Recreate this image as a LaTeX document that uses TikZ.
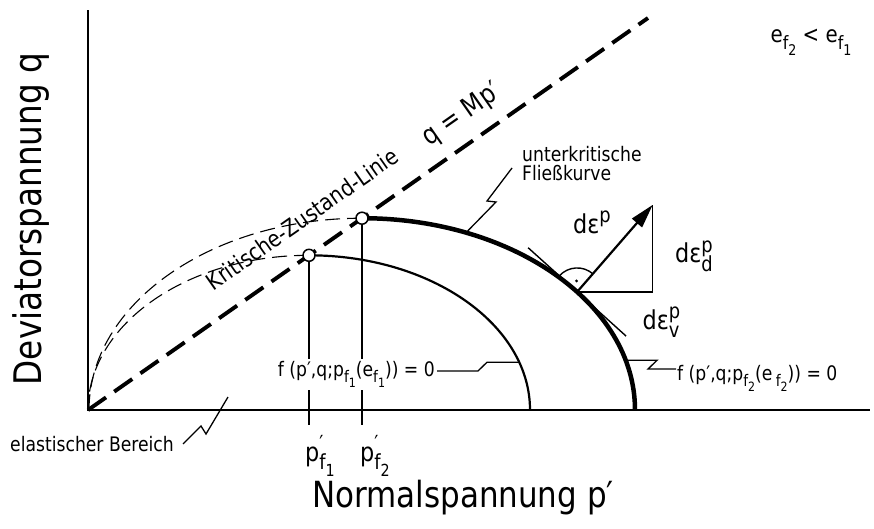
\documentclass[tikz,border=0pt]{standalone}
\usepackage{fontspec}
\setmainfont{DejaVu Sans}[FakeStretch=0.86]
\usetikzlibrary{arrows.meta}
\newcommand{\fsz}[1]{\fontsize{#1}{#1}\selectfont}
\makeatletter
\newcommand{\lo}[1]{\raisebox{-0.32em}{\fontsize{\strip@pt\dimexpr\f@size pt*4/5\relax}{1}\selectfont #1}}
\newcommand{\hi}[1]{\raisebox{0.42em}{\fontsize{\strip@pt\dimexpr\f@size pt*4/5\relax}{1}\selectfont #1}}
\makeatother
\newcommand{\hilo}[2]{\rlap{\hi{#1}}\lo{#2}}
\begin{document}
\begin{tikzpicture}[x=1pt,y=-1pt,
  axis/.style={line width=2.3pt},
  crit/.style={line width=3.9pt,dash pattern=on 22pt off 10pt},
  thinc/.style={line width=2.2pt},
  thickc/.style={line width=4.5pt},
  elast/.style={line width=1.1pt,dash pattern=on 15pt off 7pt},
  thin/.style={line width=1.4pt},
  leader/.style={line width=1.3pt},
  pt/.style={circle,draw,line width=1.5pt,fill=white,minimum size=12pt,inner sep=0pt},
  lbl/.style={inner sep=1pt,font=\fsz{20}},
  big/.style={inner sep=0pt,font=\fsz{38}},
  mid/.style={inner sep=0pt,font=\fsz{26}}
]
\useasboundingbox (0,0) rectangle (874,528);
% coordinates
\coordinate (O) at (88,410);
\coordinate (Ytop) at (88,10);
\coordinate (Xend) at (870,410);
\coordinate (E) at (648,18);
\coordinate (T1) at (309,425);
\coordinate (T2) at (362,425);
% axes
\draw[axis] (Ytop) -- (O) -- (Xend);
% critical state line
\draw[crit] (O) -- (E);
% yield curves
\draw[thinc] (309,255.3) arc[start angle=-90,end angle=0,x radius=221,y radius=154.7];
\draw[elast] (309,255.3) arc[start angle=-90,end angle=-180,x radius=221,y radius=154.7];
\draw[thickc] (362,218.2) arc[start angle=-90,end angle=0,x radius=273,y radius=191.8];
\draw[elast] (362,218.2) arc[start angle=-90,end angle=-180,x radius=273,y radius=191.8];
% points on CSL
\node[pt] (P1) at (309,255.3) {};
\node[pt] (P2) at (362,218.2) {};
\draw[thin] (P1) -- (T1);
\draw[thin] (P2) -- (T2);
% plastic strain increment
\coordinate (F) at (577.1,291.9);
\coordinate (Tip) at (652.7,204.9);
\coordinate (Cn) at (652.7,291.9);
\coordinate (Ta) at (528.1,247.7);
\coordinate (Tb) at (626.1,336.1);
\draw[thin] (Ta) -- (Tb);
\draw[thin] (F) -- (Cn) -- (Tip);
\draw[line width=2.2pt,-{Triangle[length=24pt,width=13pt]}] (F) -- (Tip);
\draw[thin] (593.2,274.1) arc[start angle=-48,end angle=-138,radius=24];
\fill (576.5,280.9) circle[radius=1.6pt];
% labels
\node[big,rotate=90] (ylab) at (31,219) {Deviatorspannung q};
\node[big,font=\fsz{36}] (xlab) at (463,498) {Normalspannung p′};
\node[mid] (pf1) at (320,456) {p\hilo{′}{f\lo{1}}};
\node[mid] (pf2) at (375,456) {p\hilo{′}{f\lo{2}}};
\node[lbl,font=\fsz{23},anchor=base,rotate=35] (kzl) at (307,226) {Kritische-Zustand-Linie};
\node[mid,font=\fsz{27},anchor=base,rotate=35] (qmp) at (466,121) {q = Mp′};
\node[lbl,align=left,anchor=north west] (uk) at (521,145) {unterkritische\\[-1pt]Fließkurve};
\node[lbl] (el) at (92,444) {elastischer Bereich};
\node[lbl,font=\fsz{23}] (ef) at (811,42) {e\lo{f\lo{2}} < e\lo{f\lo{1}}};
\node[lbl,fill=white,anchor=base east,inner sep=2pt] (f1) at (437,376) {f (p′,q;p\lo{f\lo{1}}(e\lo{f\lo{1}})) = 0};
\node[lbl,anchor=base west] (f2) at (676,380) {f (p′,q;p\lo{f\lo{2}}(e\,\lo{f\lo{2}})) = 0};
\node[mid] (de) at (592,222) {dε\hi{p}};
\node[mid] (ded) at (694,256) {dε\hilo{p}{d}};
\node[mid] (dev) at (661,322) {dε\hilo{p}{v}};
% leaders
\coordinate (L1) at (519.2,362.2);
\coordinate (L2) at (625.7,360.3);
\coordinate (L3) at (466,232.7);
\coordinate (L4) at (228,397);
\draw[leader] (f1.east |- 0,371) -- (478,371) -- (487,362.2) -- (L1);
\draw[leader] (L2) -- (657,360.3) -- (648,369) -- (f2.west |- 0,369);
\draw[leader] (512,168) -- (487,201) -- (496,202) -- (L3);
\draw[leader] (el.east) ++(8,0) -- (201,426) -- (206,434) -- (L4);
\end{tikzpicture}
\end{document}
